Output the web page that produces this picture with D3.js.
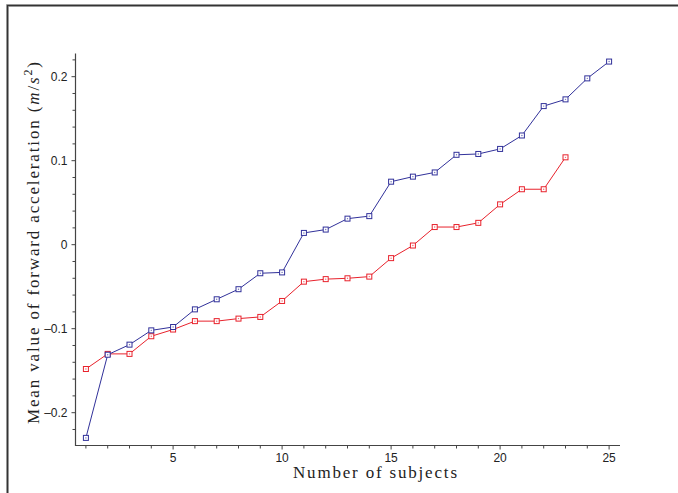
<!DOCTYPE html>
<html>
<head>
<meta charset="utf-8">
<script src="https://cdn.jsdelivr.net/npm/d3@7"></script>
<style>
  html, body { margin: 0; padding: 0; background: #fff; }
  svg { display: block; }
</style>
</head>
<body>
<svg id="chart" width="678" height="493"></svg>
<script>
// Mean forward acceleration per subject, two conditions
const subjectsBlue = d3.range(1, 26);
const valuesBlue = [-0.230, -0.131, -0.119, -0.102, -0.098, -0.077, -0.065, -0.053, -0.034, -0.033,
                    0.014, 0.018, 0.031, 0.034, 0.075, 0.081, 0.086, 0.107, 0.108, 0.114,
                    0.130, 0.165, 0.173, 0.198, 0.218];
const subjectsRed = d3.range(1, 24);
const valuesRed = [-0.148, -0.130, -0.130, -0.109, -0.101, -0.091, -0.091, -0.088, -0.086, -0.067,
                   -0.044, -0.041, -0.040, -0.038, -0.016, -0.001, 0.021, 0.021, 0.026, 0.048,
                   0.066, 0.066, 0.104];
const xTickLabels = [5, 10, 15, 20, 25];
const yTickLabels = [-0.2, -0.1, 0, 0.1, 0.2];

const svg = d3.select("#chart");

// page frame
svg.append("path")
  .attr("d", "M7.5,493 V5.5 H678")
  .attr("fill", "none").attr("stroke", "#bbb").attr("stroke-width", 3);
svg.append("path")
  .attr("d", "M7.5,493 V5.5 H678")
  .attr("fill", "none").attr("stroke", "#333").attr("stroke-width", 1.5);

const x = d3.scaleLinear().domain([0.5, 25.5]).range([75, 620]);
const y = d3.scaleLinear().domain([-0.2393, 0.2276]).range([445.7, 53.5]);

const axisColor = "#444";
const tickFont = "'Liberation Sans', Arial, Helvetica, sans-serif";

// x axis: minor ticks every subject, labels every 5
const gx = svg.append("g").attr("transform", "translate(0,445.5)");
gx.append("line").attr("x1", 75).attr("x2", 620).attr("stroke", axisColor).attr("stroke-width", 1.2);
gx.selectAll("line.minor").data(d3.range(1, 26)).join("line")
  .attr("class", "minor")
  .attr("x1", d => x(d)).attr("x2", d => x(d))
  .attr("y1", 0).attr("y2", d => d % 5 === 0 ? 4 : 3)
  .attr("stroke", axisColor).attr("stroke-width", 1);
gx.selectAll("text").data(xTickLabels).join("text")
  .attr("x", d => x(d)).attr("y", 16)
  .attr("text-anchor", "middle")
  .attr("font-family", tickFont).attr("font-size", 12).attr("fill", "#222")
  .text(d => d);

// y axis: minor ticks every 0.02, labels every 0.1
const gy = svg.append("g").attr("transform", "translate(75.5,0)");
gy.append("line").attr("y1", 53.5).attr("y2", 446).attr("stroke", axisColor).attr("stroke-width", 1.2);
const yMinor = d3.range(-22, 23, 2).map(v => v / 100);
gy.selectAll("line.minor").data(yMinor).join("line")
  .attr("class", "minor")
  .attr("y1", d => y(d)).attr("y2", d => y(d))
  .attr("x1", d => Math.abs(Math.round(d * 100)) % 10 === 0 ? -4 : -3).attr("x2", 0)
  .attr("stroke", axisColor).attr("stroke-width", 1);
gy.selectAll("text").data(yTickLabels).join("text")
  .attr("x", -8).attr("y", d => y(d))
  .attr("dy", "0.36em")
  .attr("text-anchor", "end")
  .attr("font-family", tickFont).attr("font-size", 12).attr("fill", "#222")
  .text(d => d === 0 ? "0" : (d < 0 ? "\u2013" : "") + Math.abs(d).toFixed(1));

// axis titles
const serif = "'Liberation Serif', 'Times New Roman', serif";
svg.append("text")
  .attr("x", 375).attr("y", 478)
  .attr("text-anchor", "middle")
  .attr("font-family", serif).attr("font-size", 17).attr("fill", "#222")
  .attr("textLength", 164).attr("lengthAdjust", "spacing")
  .text("Number of subjects");

const yl = svg.append("text")
  .attr("transform", "translate(39,243) rotate(-90)")
  .attr("text-anchor", "middle")
  .attr("font-family", serif).attr("font-size", 17).attr("fill", "#222")
  .attr("textLength", 362).attr("lengthAdjust", "spacing");
yl.append("tspan").text("Mean value of forward acceleration (");
yl.append("tspan").attr("font-style", "italic").text("m");
yl.append("tspan").text("/");
yl.append("tspan").attr("font-style", "italic").text("s");
yl.append("tspan").attr("font-size", 12).attr("dy", -7).text("2");
yl.append("tspan").attr("dy", 7).text(")");

// series
function drawSeries(xs, vs, color) {
  const pts = xs.map((d, i) => [d, vs[i]]);
  const line = d3.line().x(d => x(d[0])).y(d => y(d[1]));
  svg.append("path").datum(pts)
    .attr("d", line)
    .attr("fill", "none").attr("stroke", color).attr("stroke-width", 1);
  const g = svg.append("g");
  g.selectAll("rect").data(pts).join("rect")
    .attr("x", d => x(d[0]) - 2.5).attr("y", d => y(d[1]) - 2.5)
    .attr("width", 5).attr("height", 5)
    .attr("fill", "#fff").attr("stroke", color).attr("stroke-width", 1);
  g.selectAll("circle").data(pts).join("circle")
    .attr("cx", d => x(d[0])).attr("cy", d => y(d[1]))
    .attr("r", 0.7).attr("fill", color).attr("opacity", 0.7);
}
drawSeries(subjectsRed, valuesRed, "#e8222c");
drawSeries(subjectsBlue, valuesBlue, "#31319a");
</script>
</body>
</html>
